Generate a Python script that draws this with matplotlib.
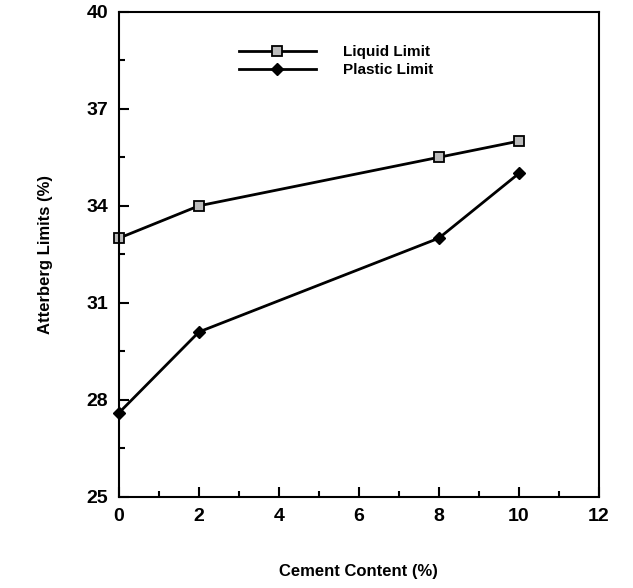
import numpy as np
import matplotlib.pyplot as plt

plt.rcParams['font.family'] = ['Liberation Sans', 'DejaVu Sans']
plt.rcParams['font.weight'] = 'bold'

cement = [0, 2, 8, 10]
liquid_limit = [33.0, 34.0, 35.5, 36.0]
plastic_limit = [27.6, 30.1, 33.0, 35.0]

fig = plt.figure(figsize=(6.33, 5.88), dpi=100)
ax = fig.add_axes([0.188, 0.155, 0.758, 0.825])

ax.plot(cement, liquid_limit, 'k-', lw=2, marker='s', ms=7,
        mfc='#bbbbbb', mec='k', mew=1.3, label='Liquid Limit', clip_on=False)
ax.plot(cement, plastic_limit, 'k-', lw=2, marker='D', ms=6,
        mfc='k', mec='k', label='Plastic Limit', clip_on=False)

ax.set_xlim(0, 12)
ax.set_ylim(25, 40)
ax.set_xticks(np.arange(0, 13, 2))
ax.set_xticks(np.arange(1, 12, 2), minor=True)
ax.set_yticks([25, 28, 31, 34, 37, 40])
ax.set_yticks(np.arange(26.5, 40, 3), minor=True)
ax.tick_params(direction='in', length=7, width=1.5, labelsize=14, pad=8)
ax.tick_params(which='minor', direction='in', length=4, width=1.5)
for s in ax.spines.values():
    s.set_linewidth(1.5)

ax.set_xlabel('Cement Content (%)', fontsize=12, fontweight='bold', labelpad=28)
ax.set_ylabel('Atterberg Limits (%)', fontsize=12, fontweight='bold', labelpad=24)

ax.legend(loc='upper left', bbox_to_anchor=(0.222, 0.96), frameon=False,
          handlelength=5, fontsize=11, labelspacing=0.3, handletextpad=1.8)

plt.savefig('out.png')
